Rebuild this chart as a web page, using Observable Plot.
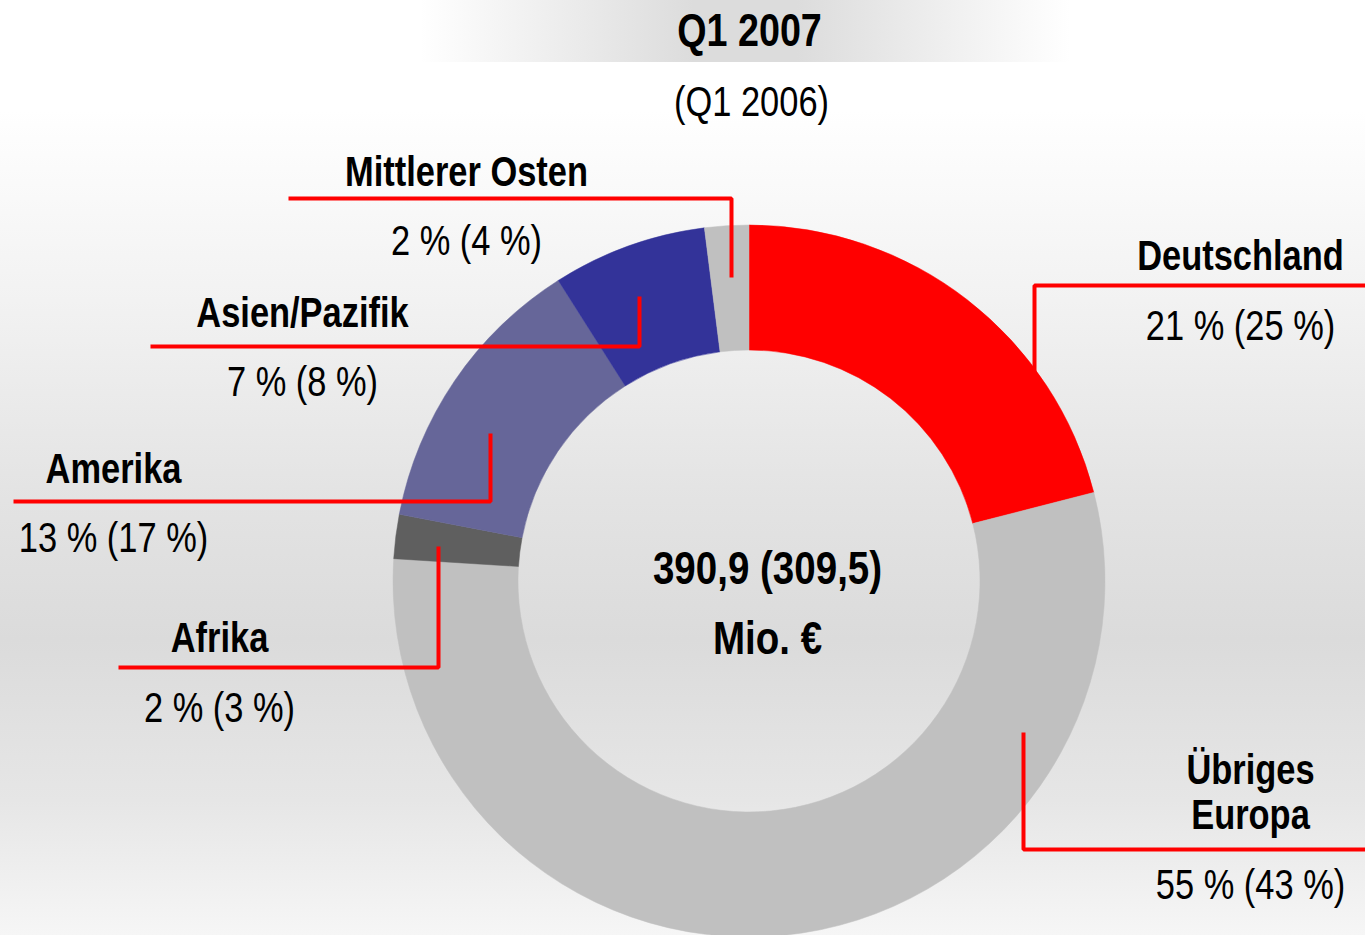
<!DOCTYPE html>
<html><head><meta charset="utf-8">
<script src="https://cdn.jsdelivr.net/npm/d3@7"></script>
<script src="https://cdn.jsdelivr.net/npm/@observablehq/plot@0.6"></script>
<style>
html,body{margin:0;padding:0;background:#fff;}
#wrap{position:relative;width:1365px;height:935px;overflow:hidden;
background:linear-gradient(to bottom,#ffffff 0px,#ffffff 110px,#f2f2f2 300px,#e3e3e3 500px,#dbdbdb 640px,#e6e6e6 800px,#f6f6f6 935px);}
#band{position:absolute;left:420px;top:0;width:650px;height:62px;
background:linear-gradient(to right,rgba(220,220,220,0),#dcdcdc 42%,#dcdcdc 58%,rgba(220,220,220,0));}
#chart{position:absolute;left:0;top:0;}
</style></head><body>
<div id="wrap"><div id="band"></div><div id="chart"></div></div>
<script>
// ---- data ----
const regions   = ["Deutschland", "Übriges Europa", "Afrika", "Amerika", "Asien/Pazifik", "Mittlerer Osten"];
const share2007 = [21, 55, 2, 13, 7, 2];
const share2006 = [25, 43, 3, 17, 8, 4];
const total2007 = "390,9";
const total2006 = "309,5";
const titleCur  = "Q1 2007";
const titlePrev = "(Q1 2006)";
const unit      = "Mio. €";

// ---- styles / layout ----
const colors = ["#ff0000", "#c0c0c0", "#5f5f5f", "#666699", "#333399", "#c0c0c0"];
const W = 1365, H = 935;
const center = [749, 581];
const outerR = 356, innerR = 231;
const FONT = "'Liberation Sans',Arial,sans-serif";
const NARROW = 0.82; // emulate a narrow (condensed) face
const labelX    = [1240, 1250, 219, 113, 302, 466];
const nameBase  = [269, 828, 651, 482, 326, 185];
const pctBase   = [339, 898, 721, 551, 395, 254];
const leaders = [
  [[1365,285],[1034,285],[1034,375]],
  [[1365,849],[1023,849],[1023,732]],
  [[118,667],[438,667],[438,546]],
  [[13,501],[490,501],[490,433]],
  [[150,346],[639,346],[639,296]],
  [[288,198],[731,198],[731,277]]
];

const slices = regions.map((r, i) => ({region: r, share: share2007[i], prev: share2006[i], color: colors[i]}));
const labels = regions.map((r, i) => ({
  name: r === "Übriges Europa" ? "Übriges\nEuropa" : r,
  pct: `${share2007[i]} % (${share2006[i]} %)`,
  x: labelX[i], yName: nameBase[i], yPct: pctBase[i]
}));
const leaderPts = leaders.flatMap((pts, i) => pts.map(([x, y]) => ({region: regions[i], x, y})));

function donut(index, scales) {
  const cx = scales.x(center[0]), cy = scales.y(center[1]);
  const ro = scales.x(center[0] + outerR) - cx;
  const ri = scales.x(center[0] + innerR) - cx;
  const pie = d3.pie().sort(null).value(d => d.share)(slices);
  const arc = d3.arc().innerRadius(ri).outerRadius(ro);
  const g = d3.create("svg:g").attr("transform", `translate(${cx},${cy})`);
  g.selectAll("path").data(pie).join("path")
    .attr("d", arc).attr("fill", d => d.data.color)
    .attr("stroke", d => d.data.color).attr("stroke-width", 0.5);
  return g.node();
}

const chart = Plot.plot({
  width: W, height: H,
  margin: 0,
  style: {background: "transparent", fontFamily: FONT, overflow: "visible"},
  x: {domain: [0, W], range: [0, W], axis: null},
  y: {domain: [0, H], range: [0, H], axis: null},
  marks: [
    donut,
    Plot.line(leaderPts, {x: "x", y: "y", z: "region", stroke: "#ff0000", strokeWidth: 4, strokeLinejoin: "miter", strokeLinecap: "butt", curve: "linear"}),
    Plot.text(labels, {x: "x", y: "yName", text: "name", fontSize: 42, fontWeight: "bold", fill: "#000", lineAnchor: "bottom", lineHeight: 1.05, textAnchor: "middle"}),
    Plot.text(labels, {x: "x", y: "yPct", text: "pct", fontSize: 42, fill: "#000", lineAnchor: "bottom", textAnchor: "middle"}),
    Plot.text([`${total2007} (${total2006})`], {x: () => 767, y: () => 583, text: d => d, fontSize: 47, fontWeight: "bold", fill: "#000", lineAnchor: "bottom"}),
    Plot.text([unit], {x: () => 767, y: () => 653, text: d => d, fontSize: 47, fontWeight: "bold", fill: "#000", lineAnchor: "bottom"}),
    Plot.text([titleCur], {x: () => 749, y: () => 45, text: d => d, fontSize: 46, fontWeight: "bold", fill: "#000", lineAnchor: "bottom"}),
    Plot.text([titlePrev], {x: () => 751, y: () => 115, text: d => d, fontSize: 42, fill: "#000", lineAnchor: "bottom"})
  ]
});
// condense the typeface horizontally around each text's anchor
d3.select(chart).selectAll("text").each(function() {
  const t = this.getAttribute("transform") || "";
  this.setAttribute("transform", `${t} scale(${NARROW},1)`);
});
document.getElementById("chart").appendChild(chart);
</script>
</body></html>
